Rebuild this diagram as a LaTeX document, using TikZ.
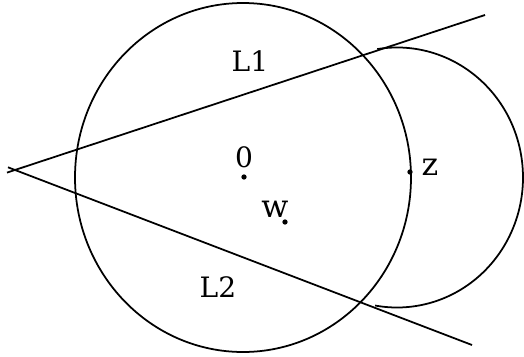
\documentclass[tikz,border=0pt]{standalone}
\usepackage{fontspec}
\setmainfont{DejaVu Serif}
\usepackage{tikz}
\usetikzlibrary{positioning}

\begin{document}
\begin{tikzpicture}[
    x=0.02cm, y=-0.02cm,
    every node/.style={font=\fontsize{16}{19}\selectfont, inner sep=0pt},
    curve/.style={line width=1pt},
    dotmark/.style={circle, fill, inner sep=0pt, minimum size=3pt},
    letter/.style={font=\fontsize{18}{21}\selectfont},
  ]
  \useasboundingbox (0,0) rectangle (524,356);

  % the two circles
  \coordinate (O) at (243,177.5);
  \coordinate (C) at (397,177.5);
  \draw[curve] (O) ellipse [x radius=168, y radius=174.5];
  \draw[curve] (C) ++(-99:126 and 130)
    arc [start angle=-99, end angle=100, x radius=126, y radius=130];

  % the two lines from the vertex
  \coordinate (V1) at (7,172.6);
  \coordinate (E1) at (485,15);
  \coordinate (V2) at (8,167.3);
  \coordinate (E2) at (472,345);
  \draw[curve] (V1) -- (E1);
  \draw[curve] (V2) -- (E2);

  % points and labels
  \node[dotmark] (o) at (244,177) {};
  \node[above=0.12cm of o] (olab) {0};
  \node[dotmark] (w) at (285,222) {};
  \node[letter, anchor=base] (wlab) at (275,217) {w};
  \node[dotmark] (z) at (410,172) {};
  \node[letter, anchor=base] (zlab) at (430,175) {z};
  \node[anchor=base] (l1) at (250,71) {L1};
  \node[anchor=base] (l2) at (218,297) {L2};
\end{tikzpicture}
\end{document}
